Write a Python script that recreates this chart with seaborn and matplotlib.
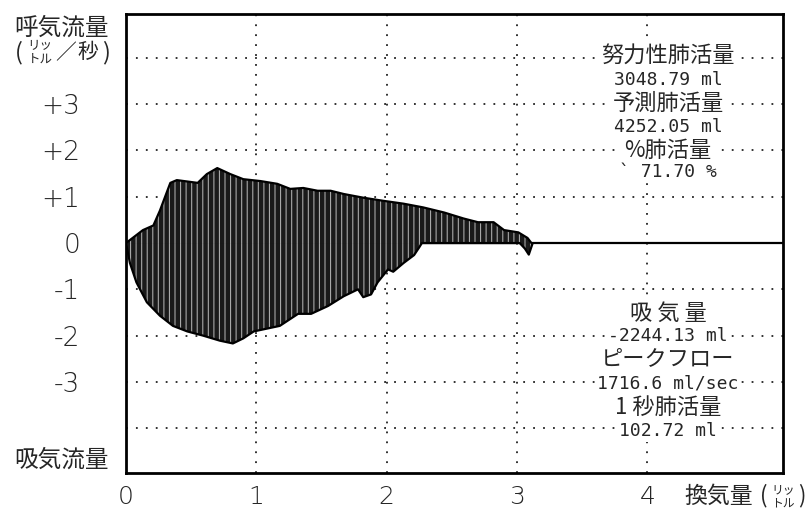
import numpy as np
import pandas as pd
import matplotlib
matplotlib.use("Agg")
import matplotlib.pyplot as plt
import seaborn as sns

# ---- data ----
vol_exp = [0.00, 0.13, 0.21, 0.26, 0.34, 0.39, 0.55, 0.62, 0.70, 0.80, 0.90, 1.03, 1.16, 1.26,
           1.36, 1.47, 1.57, 1.67, 1.82, 1.98, 2.13, 2.28, 2.44, 2.59, 2.70, 2.82, 2.90, 3.01,
           3.08, 3.11]
flow_exp = [0.00, 0.28, 0.38, 0.70, 1.30, 1.36, 1.30, 1.49, 1.62, 1.49, 1.38, 1.34, 1.28, 1.17,
            1.19, 1.13, 1.13, 1.06, 0.98, 0.91, 0.85, 0.77, 0.66, 0.53, 0.45, 0.45, 0.28, 0.23,
            0.11, 0.00]
vol_insp = [0.00, 0.03, 0.08, 0.16, 0.26, 0.36, 0.47, 0.59, 0.72, 0.82, 0.90, 0.98, 1.08, 1.18,
            1.32, 1.42, 1.55, 1.67, 1.78, 1.82, 1.88, 1.93, 2.01, 2.05, 2.13, 2.21, 2.25, 2.27,
            3.02, 3.06, 3.09, 3.12]
flow_insp = [0.00, -0.43, -0.85, -1.28, -1.57, -1.79, -1.91, -2.00, -2.11, -2.17, -2.06, -1.91,
             -1.85, -1.79, -1.53, -1.53, -1.36, -1.15, -1.00, -1.17, -1.11, -0.85, -0.57, -0.62,
             -0.43, -0.26, -0.09, 0.00, 0.00, -0.12, -0.25, 0.00]

y_ticks = [3, 2, 1, 0, -1, -2, -3]
y_tick_labels = ["+3", "+2", "+1", "0", "-1", "-2", "-3"]
x_ticks = [0, 1, 2, 3, 4]
x_tick_labels = ["0", "1", "2", "3", "4"]
grid_x = [1, 2, 3, 4]
grid_y = [4, 3, 2, 1, -1, -2, -3, -4]

upper_labels = ["努力性肺活量", "3048.79 ml", "予測肺活量", "4252.05 ml", "%肺活量", "` 71.70 %"]
lower_labels = ["吸 気 量", "-2244.13 ml", "ピークフロー", "1716.6 ml/sec", "1 秒肺活量", "102.72 ml"]

sns.set_theme(style="white")
plt.rcParams["font.family"] = ["Noto Sans CJK JP", "DejaVu Sans"]
plt.rcParams["hatch.linewidth"] = 0.8

W, H = 810, 515
fig = plt.figure(figsize=(W / 100, H / 100), dpi=100)
ax = fig.add_axes([126 / W, 1 - 473 / H, (783 - 126) / W, (473 - 14) / H])
ax.set_xlim(0, 5.04)
ax.set_ylim(-4.97, 4.95)

# dotted grid
for gx in grid_x:
    ax.axvline(gx, color="#222222", lw=1.3, ls=(0, (1, 4.5)), zorder=1)
for gy in grid_y:
    ax.axhline(gy, color="#222222", lw=1.3, ls=(0, (1, 4.5)), zorder=1)
ax.axhline(0, color="black", lw=1.6, zorder=2)

exp_df = pd.DataFrame({"vol": vol_exp, "flow": flow_exp})
insp_df = pd.DataFrame({"vol": vol_insp, "flow": flow_insp})

for df in (exp_df, insp_df):
    ax.fill_between(df["vol"], 0, df["flow"], facecolor="#1a1a1a", edgecolor="#a8a8a8",
                    hatch="|||", linewidth=0, zorder=3)
    sns.lineplot(data=df, x="vol", y="flow", ax=ax, color="black", lw=1.6,
                 sort=False, estimator=None, zorder=4)

ax.set_xlabel("")
ax.set_ylabel("")
ax.set_yticks(y_ticks)
ax.set_yticklabels(y_tick_labels, fontsize=19, family=["DejaVu Sans"], fontweight="light")
ax.set_xticks(x_ticks)
ax.set_xticklabels(x_tick_labels, fontsize=18, family=["DejaVu Sans"], fontweight="light")
ax.tick_params(axis="y", length=0, pad=33)
ax.tick_params(axis="x", length=0, pad=9)
for sp in ax.spines.values():
    sp.set_color("black")
    sp.set_linewidth(2)

# right-hand annotations
def px2data(px, py):
    return ((px - 126) / (783 - 126) * 5.04, 4.95 - (py - 14) / (473 - 14) * (4.95 + 4.97))

upper_y = [55, 80, 103, 127, 150, 172]
lower_y = [313, 336, 359, 383, 407, 431]
for labs, ys in ((upper_labels, upper_y), (lower_labels, lower_y)):
    for i, (t, py) in enumerate(zip(labs, ys)):
        xd, yd = px2data(668, py)
        big = (i % 2 == 0)
        if big:
            ax.text(xd, yd, t, ha="center", va="center", fontsize=16,
                    family=["Noto Sans CJK JP", "DejaVu Sans"],
                    bbox=dict(facecolor="white", edgecolor="none", pad=1.5), zorder=6)
        else:
            ax.text(xd, yd, t, ha="center", va="center", fontsize=13,
                    family=["DejaVu Sans Mono"],
                    bbox=dict(facecolor="white", edgecolor="none", pad=1.5), zorder=6)

# axis titles
fig.text(62 / W, 1 - 28 / H, "呼気流量", ha="center", va="center", fontsize=17)
fig.text(19 / W, 1 - 53 / H, "(", ha="center", va="center", fontsize=17)
fig.text(40 / W, 1 - 46 / H, "リッ", ha="center", va="center", fontsize=9)
fig.text(40 / W, 1 - 59 / H, "トル", ha="center", va="center", fontsize=9)
fig.text(66 / W, 1 - 53 / H, "／", ha="center", va="center", fontsize=15)
fig.text(88 / W, 1 - 52 / H, "秒", ha="center", va="center", fontsize=15)
fig.text(106 / W, 1 - 53 / H, ")", ha="center", va="center", fontsize=17)
fig.text(62 / W, 1 - 460 / H, "吸気流量", ha="center", va="center", fontsize=17)

fig.text(719 / W, 1 - 496 / H, "換気量", ha="center", va="center", fontsize=16.5)
fig.text(764 / W, 1 - 496 / H, "(", ha="center", va="center", fontsize=16)
fig.text(783 / W, 1 - 490 / H, "リッ", ha="center", va="center", fontsize=8.5)
fig.text(783 / W, 1 - 503 / H, "トル", ha="center", va="center", fontsize=8.5)
fig.text(802 / W, 1 - 496 / H, ")", ha="center", va="center", fontsize=16)

fig.savefig("out.png", dpi=100, facecolor="white")
